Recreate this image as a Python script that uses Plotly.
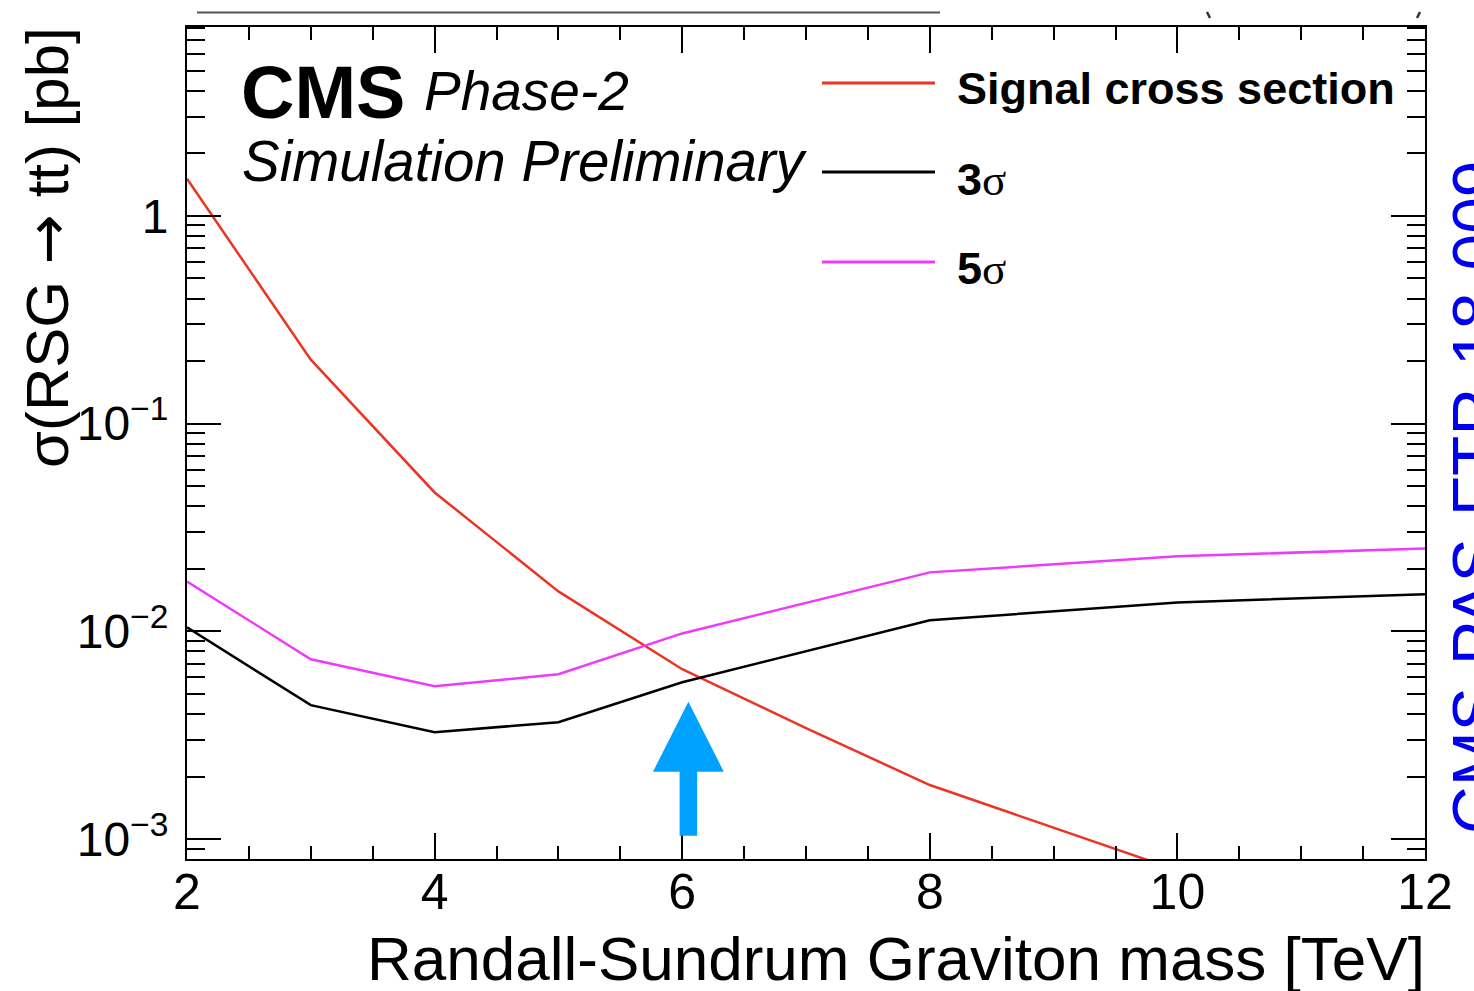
import plotly.graph_objects as go

# ---------------- data ----------------
mass_signal = [2, 3, 4, 5, 6, 7, 8, 9, 10]
xsec_signal = [1.507, 0.203, 0.0466, 0.01556, 0.00657, 0.00342, 0.00182, 0.00113, 0.000707]

mass_sig = [2, 3, 4, 5, 6, 8, 10, 12]
xsec_3sigma = [0.01045, 0.00441, 0.00327, 0.00365, 0.00569, 0.01130, 0.01378, 0.01507]
xsec_5sigma = [0.01738, 0.00733, 0.00544, 0.00621, 0.00977, 0.01922, 0.02296, 0.02506]

series_names = ["Signal cross section", "3σ", "5σ"]
x_tick_vals = [2, 4, 6, 8, 10, 12]
x_tick_text = ["2", "4", "6", "8", "10", "12"]
y_tick_vals = [1e-3, 1e-2, 1e-1, 1]
y_tick_text = ["10<sup>−3</sup>", "10<sup>−2</sup>", "10<sup>−1</sup>", "1"]
arrow_mass = 6.05

# ---------------- style ----------------
RED = "rgb(236,52,36)"
MAGENTA = "rgb(238,58,250)"
BLACK = "black"
BLUE_ARROW = "rgb(0,162,255)"
BLUE_TEXT = "rgb(0,0,238)"
FONT = "Liberation Sans, Arial, Helvetica, sans-serif"

W, H = 1474, 991
L, R, T, B = 187, 49, 27, 132
PW, PH = W - L - R, H - T - B


def px(xp):
    return (xp - L) / PW


def py(yp):
    return (H - B - yp) / PH


fig = go.Figure()
fig.add_trace(go.Scatter(x=mass_signal, y=xsec_signal, mode="lines", name=series_names[0],
                         line=dict(color=RED, width=2.5), showlegend=False))
fig.add_trace(go.Scatter(x=mass_sig, y=xsec_3sigma, mode="lines", name=series_names[1],
                         line=dict(color=BLACK, width=2.5), showlegend=False))
fig.add_trace(go.Scatter(x=mass_sig, y=xsec_5sigma, mode="lines", name=series_names[2],
                         line=dict(color=MAGENTA, width=2.5), showlegend=False))

minor_y = [m * 10.0 ** k for k in range(-4, 1) for m in range(2, 10)]

fig.update_layout(
    width=W, height=H,
    margin=dict(l=L, r=R, t=T, b=B, pad=0),
    paper_bgcolor="white", plot_bgcolor="white",
    font=dict(family=FONT, color="black"),
    xaxis=dict(
        range=[2, 12], tickmode="array", tickvals=x_tick_vals, ticktext=x_tick_text,
        ticks="inside", ticklen=26, tickwidth=2, tickcolor="black",
        showline=True, linewidth=2, linecolor="black", mirror="allticks",
        showgrid=False, zeroline=False,
        tickfont=dict(size=50, family=FONT, color="black"),
        ticklabelstandoff=-12,
        minor=dict(ticks="inside", ticklen=13, tickwidth=2, tickcolor="black", dtick=0.5, tick0=2,
                   showgrid=False),
    ),
    yaxis=dict(
        type="log", range=[-3.096, 0.909], tickmode="array", tickvals=y_tick_vals, ticktext=y_tick_text,
        ticks="inside", ticklen=34, tickwidth=2, tickcolor="black",
        showline=True, linewidth=2, linecolor="black", mirror="allticks",
        showgrid=False, zeroline=False,
        tickfont=dict(size=48, family=FONT, color="black"),
        ticklabelstandoff=7,
        minor=dict(ticks="inside", ticklen=18, tickwidth=2, tickcolor="black",
                   tickmode="array", tickvals=minor_y, showgrid=False),
    ),
)

shapes = []
# legend sample lines
for yp, col in [(83, RED), (172, BLACK), (262, MAGENTA)]:
    shapes.append(dict(type="line", xref="paper", yref="paper", x0=px(822), x1=px(935),
                       y0=py(yp), y1=py(yp), line=dict(color=col, width=3)))
# arrow (x in data units, y in paper units)
tip, base, bottom = py(701.7), py(771.7), py(835.7)
hw, sw = 0.286, 0.071
path = (f"M {arrow_mass},{tip} L {arrow_mass + hw},{base} L {arrow_mass + sw},{base} "
        f"L {arrow_mass + sw},{bottom} L {arrow_mass - sw},{bottom} L {arrow_mass - sw},{base} "
        f"L {arrow_mass - hw},{base} Z")
shapes.append(dict(type="path", xref="x", yref="paper", path=path,
                   fillcolor=BLUE_ARROW, line=dict(width=0), layer="above"))
# header remnants at top
shapes.append(dict(type="line", xref="paper", yref="paper", x0=px(197), x1=px(940),
                   y0=py(12.5), y1=py(12.5), line=dict(color="#555555", width=2)))
shapes.append(dict(type="line", xref="paper", yref="paper", x0=px(1207), x1=px(1210),
                   y0=py(12), y1=py(18), line=dict(color="#333333", width=2.5)))
shapes.append(dict(type="line", xref="paper", yref="paper", x0=px(1420), x1=px(1417),
                   y0=py(12), y1=py(18), line=dict(color="#333333", width=2.5)))
fig.update_layout(shapes=shapes)

ann = []


def add_text(text, xp, yp, size, xanchor="left", yanchor="middle", angle=0, color="black"):
    ann.append(dict(text=text, xref="paper", yref="paper", x=px(xp), y=py(yp),
                    xanchor=xanchor, yanchor=yanchor, showarrow=False, textangle=angle,
                    font=dict(size=size, family=FONT, color=color), borderpad=0))


add_text("<b>CMS</b>", 240, 92, 74)
add_text("<i>Phase-2</i>", 423, 91, 55)
add_text("<i>Simulation Preliminary</i>", 241, 161, 56.5)
add_text("<b>Signal cross section</b>", 956, 88, 45)
add_text("<b>3</b><span style='font-family:Liberation Serif'>σ</span>", 956, 179, 45)
add_text("<b>5</b><span style='font-family:Liberation Serif'>σ</span>", 956, 268, 45)
add_text("Randall-Sundrum Graviton mass [TeV]", 1426, 958, 62, xanchor="right")
add_text("σ(RSG <span style='font-family:DejaVu Sans'>→</span> tt) [pb]", 47, 248, 60,
         xanchor="center", angle=-90)
add_text("CMS-PAS-FTR-18-009", 1476, 497, 66, xanchor="center", angle=-90, color=BLUE_TEXT)
fig.update_layout(annotations=ann)

fig.write_html("out.html")
